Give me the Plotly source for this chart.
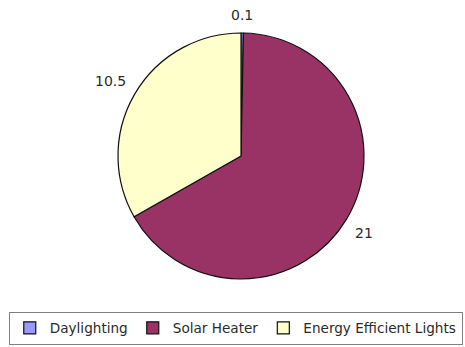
import math
import plotly.graph_objects as go

# Energy savings by measure
categories = ["Daylighting", "Solar Heater", "Energy Efficient Lights"]
savings = [0.1, 21, 10.5]
slice_colors = ["#9999FF", "#993366", "#FFFFCC"]

W, H = 465, 347
# pie box in pixels: left, right, top, bottom
PIE_L, PIE_R, PIE_T, PIE_B = 118, 364, 33, 279
LABEL_GAP = 9

fig = go.Figure(
    go.Pie(
        labels=categories,
        values=savings,
        sort=False,
        direction="clockwise",
        rotation=0,
        textinfo="none",
        marker=dict(colors=slice_colors, line=dict(color="#111111", width=1.2)),
        domain=dict(x=[PIE_L / W, PIE_R / W], y=[(H - PIE_B) / H, (H - PIE_T) / H]),
        hoverinfo="label+value",
    )
)

# value labels just outside each slice, at the slice's mid-angle
cx, cy = (PIE_L + PIE_R) / 2, (PIE_T + PIE_B) / 2
radius = min(PIE_R - PIE_L, PIE_B - PIE_T) / 2
total = sum(savings)
start = 0.0
for v in savings:
    mid = (start + v / 2) / total * 2 * math.pi
    start += v
    sx, sy = math.sin(mid), -math.cos(mid)
    px = cx + (radius + LABEL_GAP) * sx
    py = cy + (radius + LABEL_GAP) * sy
    xanchor = "left" if sx > 0.2 else ("right" if sx < -0.2 else "center")
    yanchor = "bottom" if sy < -0.2 else ("top" if sy > 0.2 else "middle")
    fig.add_annotation(
        x=px / W, y=1 - py / H, xref="paper", yref="paper",
        text=f"{v:g}", showarrow=False,
        xanchor=xanchor, yanchor=yanchor, borderpad=0,
        font=dict(family="DejaVu Sans", size=14, color="#2a2a2a"),
    )

fig.update_layout(
    width=W,
    height=H,
    margin=dict(l=0, r=0, t=0, b=0),
    paper_bgcolor="white",
    plot_bgcolor="white",
    showlegend=True,
    legend=dict(
        orientation="h",
        x=0.507,
        xanchor="center",
        y=(H - 328) / H,
        yanchor="middle",
        bordercolor="#808080",
        borderwidth=1,
        font=dict(family="DejaVu Sans", size=13.6, color="#2a2a2a"),
        traceorder="normal",
    ),
)

fig.write_html("out.html")
